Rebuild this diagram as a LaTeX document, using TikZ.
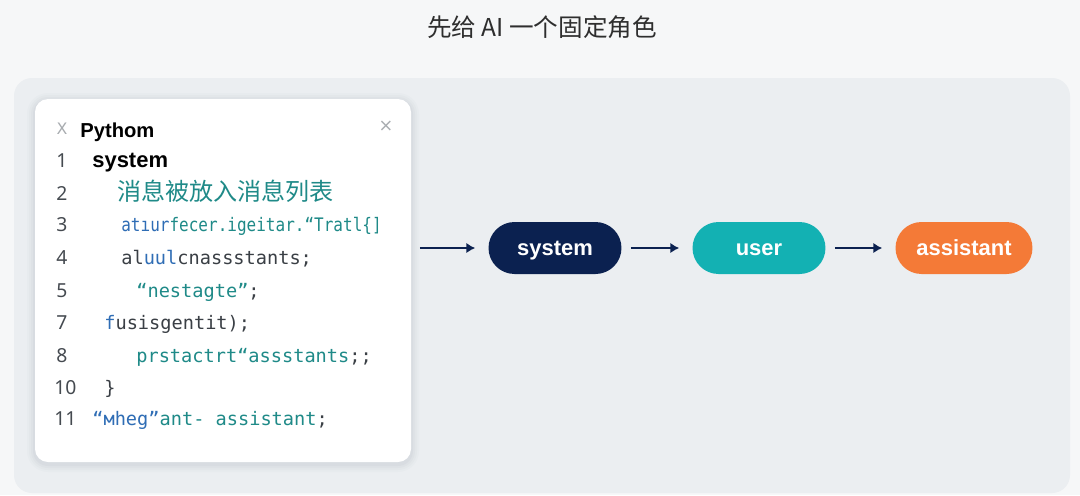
\documentclass[tikz,border=0pt]{standalone}
\usepackage{fontspec}
\setmainfont{Noto Sans}
\newfontfamily\boldsans{Liberation Sans}
\newfontfamily\cjkfont{Noto Sans CJK SC}
\newfontfamily\codefont{DejaVu Sans Mono}
\newfontfamily\symfont{DejaVu Sans}
\usetikzlibrary{positioning,arrows.meta}

\definecolor{pagebg}{HTML}{F6F7F8}
\definecolor{panelbg}{HTML}{EBEEF1}
\definecolor{titlegray}{HTML}{2E2E2E}
\definecolor{navy}{HTML}{0B2150}
\definecolor{pillteal}{HTML}{13B1B3}
\definecolor{pillorange}{HTML}{F47A37}
\definecolor{codeteal}{HTML}{1F8A88}
\definecolor{codeblue}{HTML}{2F6DB5}
\definecolor{codegray}{HTML}{3A3F45}
\definecolor{numgray}{HTML}{454A50}
\definecolor{icongray}{HTML}{A8ACB0}
\definecolor{shadowgray}{HTML}{9AA2AA}

\begin{document}
\begin{tikzpicture}[x=0.02cm,y=-0.02cm,
    pill/.style={rounded corners=0.52cm, minimum height=1.04cm, minimum width=2.66cm,
        inner sep=0pt, text height=9pt, text depth=0.5pt, text=white,
        font=\boldsans\bfseries\fontsize{12.5}{14}\selectfont},
    flow/.style={-{Latex[length=5pt,width=6pt]}, line width=1.1pt, draw=navy,
        shorten <=0.18cm, shorten >=0.26cm},
    lnum/.style={anchor=base west, inner sep=0pt, text=numgray, font=\fontsize{11}{12}\selectfont},
    codeline/.style={anchor=base west, inner sep=0pt, font=\codefont\fontsize{10.6}{12}\selectfont},
]
    \useasboundingbox (0,0) rectangle (1080,495);
    \fill[pagebg] (0,0) rectangle (1080,495);

    % title
    \node[text=titlegray, font=\cjkfont\fontsize{14}{16}\selectfont] (title) at (542,27) {先给 AI 一个固定角色};

    % grey panel
    \fill[panelbg, rounded corners=0.36cm] (14,78) rectangle (1070,493);

    % code card with soft shadow
    \foreach \s/\o in {8/0.04,6/0.05,4/0.06,2/0.08}
        \fill[shadowgray, opacity=\o, rounded corners=0.26cm+\s*0.02cm]
            (35-\s,99-\s+2) rectangle (411+\s,462+\s+2);
    \fill[white, rounded corners=0.26cm] (35,99) rectangle (411,462);
    \node[text=icongray, font=\symfont\fontsize{9}{10}\selectfont] (icon) at (62,129) {Ⅹ};
    \node[anchor=base west, inner sep=0pt, font=\boldsans\bfseries\fontsize{11.5}{13}\selectfont] (lang) at (80,137) {Pythom};
    \node[text=icongray, font=\symfont\fontsize{10}{11}\selectfont] (close) at (386,126) {×};

    % line numbers
    \node[lnum] (n1) at (56,167) {1};
    \node[lnum] (n2) at (56,200) {2};
    \node[lnum] (n3) at (56,231) {3};
    \node[lnum] (n4) at (56,264) {4};
    \node[lnum] (n5) at (56,297) {5};
    \node[lnum] (n7) at (56,329) {7};
    \node[lnum] (n8) at (56,362) {8};
    \node[lnum] (n10) at (54,394) {10};
    \node[lnum] (n11) at (54,425) {11};

    % code text
    \node[anchor=base west, inner sep=0pt, font=\boldsans\bfseries\fontsize{12.5}{14}\selectfont] (c1) at (92,167) {system};
    \node[anchor=base west, inner sep=0pt, text=codeteal, font=\cjkfont\fontsize{13.7}{15}\selectfont] (c2) at (117,200) {消息被放入消息列表};
    \node[codeline] (c3) at (121,231)
        {\scalebox{0.86}[1]{\textcolor{codeblue}{atıur}\textcolor{codeteal}{fecer.igeitar.“Tratl\{]}}};
    \node[codeline, text=codegray] (c4) at (121,264) {al\textcolor{codeblue}{uul}cnassstants;};
    \node[codeline, text=codeteal] (c5) at (136,297) {“nestagte”\textcolor{codegray}{;}};
    \node[codeline, text=codegray] (c7) at (104,329) {\textcolor{codeblue}{f}usisgentit);};
    \node[codeline, text=codeteal] (c8) at (136,362) {prstactrt“assstants\textcolor{codegray}{;;}};
    \node[codeline, text=codegray] (c10) at (104,394) {\}};
    \node[codeline, text=codeteal] (c11) at (92,425) {\textcolor{codeblue}{“мheg”}ant- assistant\textcolor{codegray}{;}};

    % role flow
    \coordinate (start) at (411,248);
    \node[pill, fill=navy] (system) at (555,248) {system};
    \node[pill, fill=pillteal] (user) at (759,248) {user};
    \node[pill, fill=pillorange, minimum width=2.74cm] (assistant) at (964,248) {assistant};

    \draw[flow] (start) -- (system);
    \draw[flow] (system) -- (user);
    \draw[flow] (user) -- (assistant);
\end{tikzpicture}
\end{document}
